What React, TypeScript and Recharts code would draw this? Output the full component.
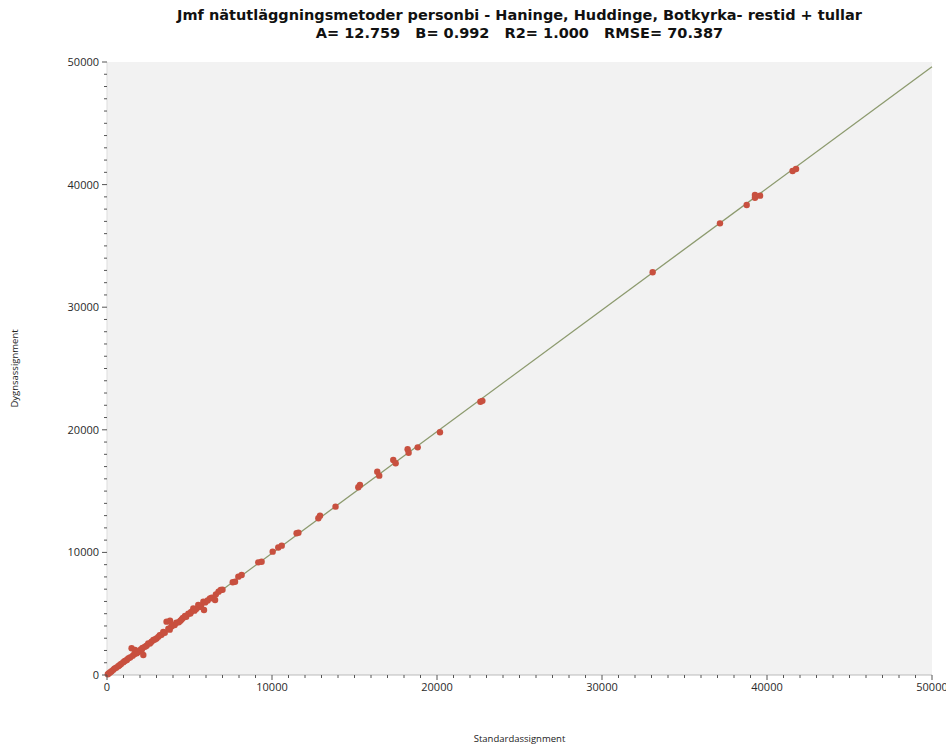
// Jämförelse av nätutläggningsmetoder, personbil – spridningsdiagram med regressionslinje
import {
  ScatterChart,
  Scatter,
  XAxis,
  YAxis,
  ReferenceLine,
  ReferenceArea,
  Label,
} from "recharts";

const titleLine1 =
  "Jmf nätutläggningsmetoder personbi - Haninge, Huddinge, Botkyrka- restid + tullar";
const titleLine2 = "A= 12.759   B= 0.992   R2= 1.000   RMSE= 70.387";

const xLabel = "Standardassignment";
const yLabel = "Dygnsassignment";

// regression: y = A + B * x
const coefA = 12.759;
const coefB = 0.992;

const axisMin = 0;
const axisMax = 50000;
const majorTicks = [0, 10000, 20000, 30000, 40000, 50000];
const minorStep = 1000;

// Standardassignment
const standardValues = [
  50, 120, 200, 280, 380, 450, 550, 680, 760, 850, 990, 1080, 1200, 1290, 1400,
  1490, 1550, 1700, 1650, 1800, 1850, 1950, 2050, 2100, 2200, 2150, 2300, 2400,
  2500, 2600, 2700, 2810, 2900, 3000, 3110, 3200, 3300, 3410, 3500, 3610, 3720,
  3820, 3800, 3900, 4000, 4100, 4200, 4350, 4450, 4530, 4600, 4730, 4800, 4930,
  5050, 5100, 5230, 5300, 5400, 5530, 5600, 5700, 5840, 5880, 5950, 6100, 6240,
  6350, 6550, 6600, 6760, 6890, 7000, 7620, 7760, 7960, 8160, 9170, 9370, 10040,
  10380, 10590, 11490, 11600, 12810, 12910, 13850, 15230, 15330, 16380, 16500,
  17350, 17495, 18220, 18280, 18830, 20180, 22630, 22750, 33070, 37150, 38770,
  39270, 39270, 39580, 41550, 41760,
];

// Dygnsassignment
const dygnValues = [
  60, 150, 230, 300, 420, 520, 600, 720, 800, 900, 1050, 1150, 1220, 1360, 1430,
  2180, 1560, 2040, 1700, 1770, 1860, 1920, 2080, 2040, 1630, 2200, 2310, 2380,
  2580, 2560, 2720, 2850, 2900, 2980, 3110, 3250, 3280, 3510, 3450, 4350, 3780,
  4430, 3700, 3950, 4050, 4080, 4260, 4300, 4420, 4540, 4650, 4810, 4750, 5000,
  5020, 5150, 5420, 5250, 5380, 5710, 5550, 5680, 5980, 5300, 5920, 6080, 6250,
  6300, 6120, 6580, 6800, 6930, 6950, 7560, 7610, 8020, 8160, 9190, 9240, 10060,
  10400, 10550, 11560, 11610, 12780, 12990, 13730, 15310, 15500, 16580, 16260,
  17540, 17270, 18410, 18130, 18570, 19800, 22290, 22360, 32850, 36840, 38340,
  39150, 38930, 39100, 41110, 41270,
];

const points = standardValues.map((x, i) => ({ x, y: dygnValues[i] }));

const minorTicks: number[] = [];
for (let v = axisMin; v <= axisMax; v += minorStep) minorTicks.push(v);

const tickFont = "'Open Sans', sans-serif";

function YTick(props: any) {
  const { x, y, payload } = props;
  const major = majorTicks.includes(payload.value);
  return (
    <g>
      <line x1={x - (major ? 5 : 3)} x2={x} y1={y} y2={y} stroke="#555" strokeWidth={1} />
      {major && (
        <text x={x - 8} y={y} dy={4} textAnchor="end" fontSize={11} fill="#2a2a2a" fontFamily={tickFont}>
          {payload.value}
        </text>
      )}
    </g>
  );
}

function XTick(props: any) {
  const { x, y, payload } = props;
  const major = majorTicks.includes(payload.value);
  return (
    <g>
      <line x1={x} x2={x} y1={y} y2={y + (major ? 5 : 3)} stroke="#555" strokeWidth={1} />
      {major && (
        <text x={x} y={y + 16} textAnchor="middle" fontSize={11} fill="#2a2a2a" fontFamily={tickFont}>
          {payload.value}
        </text>
      )}
    </g>
  );
}

export default function App() {
  return (
    <div style={{ position: "absolute", left: 0, top: 0, width: 946, height: 746, background: "#fff" }}>
      <div
        style={{
          position: "absolute",
          left: 107,
          width: 825,
          top: 6,
          textAlign: "center",
          fontFamily: "'DejaVu Sans', sans-serif",
          fontWeight: "bold",
          fontSize: 14.5,
          lineHeight: "18px",
          color: "#111",
          whiteSpace: "pre",
        }}
      >
        <div>{titleLine1}</div>
        <div>{titleLine2}</div>
      </div>
      <ScatterChart
        width={946}
        height={746}
        margin={{ top: 62, right: 14, bottom: 0, left: 0 }}
      >
        <ReferenceArea
          x1={axisMin}
          x2={axisMax}
          y1={axisMin}
          y2={axisMax}
          fill="#f2f2f2"
          fillOpacity={1}
          stroke="none"
        />
        <XAxis
          type="number"
          dataKey="x"
          domain={[axisMin, axisMax]}
          ticks={minorTicks}
          interval={0}
          height={71}
          tickSize={0}
          tickMargin={0}
          tick={<XTick />}
          axisLine={{ stroke: "#bbb" }}
        >
          <Label
            value={xLabel}
            position="insideBottom"
            offset={4}
            fontSize={9.5}
            fill="#222"
            fontFamily={tickFont}
          />
        </XAxis>
        <YAxis
          type="number"
          dataKey="y"
          domain={[axisMin, axisMax]}
          ticks={minorTicks}
          interval={0}
          width={107}
          tickSize={0}
          tickMargin={0}
          tick={<YTick />}
          axisLine={{ stroke: "#ddd" }}
        >
          <Label
            value={yLabel}
            angle={-90}
            position="insideLeft"
            offset={15}
            fontSize={9.5}
            fill="#222"
            fontFamily={tickFont}
            style={{ textAnchor: "middle" }}
          />
        </YAxis>
        <ReferenceLine
          segment={[
            { x: axisMin, y: coefA + coefB * axisMin },
            { x: axisMax, y: coefA + coefB * axisMax },
          ]}
          stroke="#8c9a6e"
          strokeWidth={1.3}
        />
        <Scatter
          data={points}
          fill="#c8503f"
          isAnimationActive={false}
          shape={(p: any) => <circle cx={p.cx} cy={p.cy} r={3.2} fill="#c8503f" />}
        />
      </ScatterChart>
    </div>
  );
}
